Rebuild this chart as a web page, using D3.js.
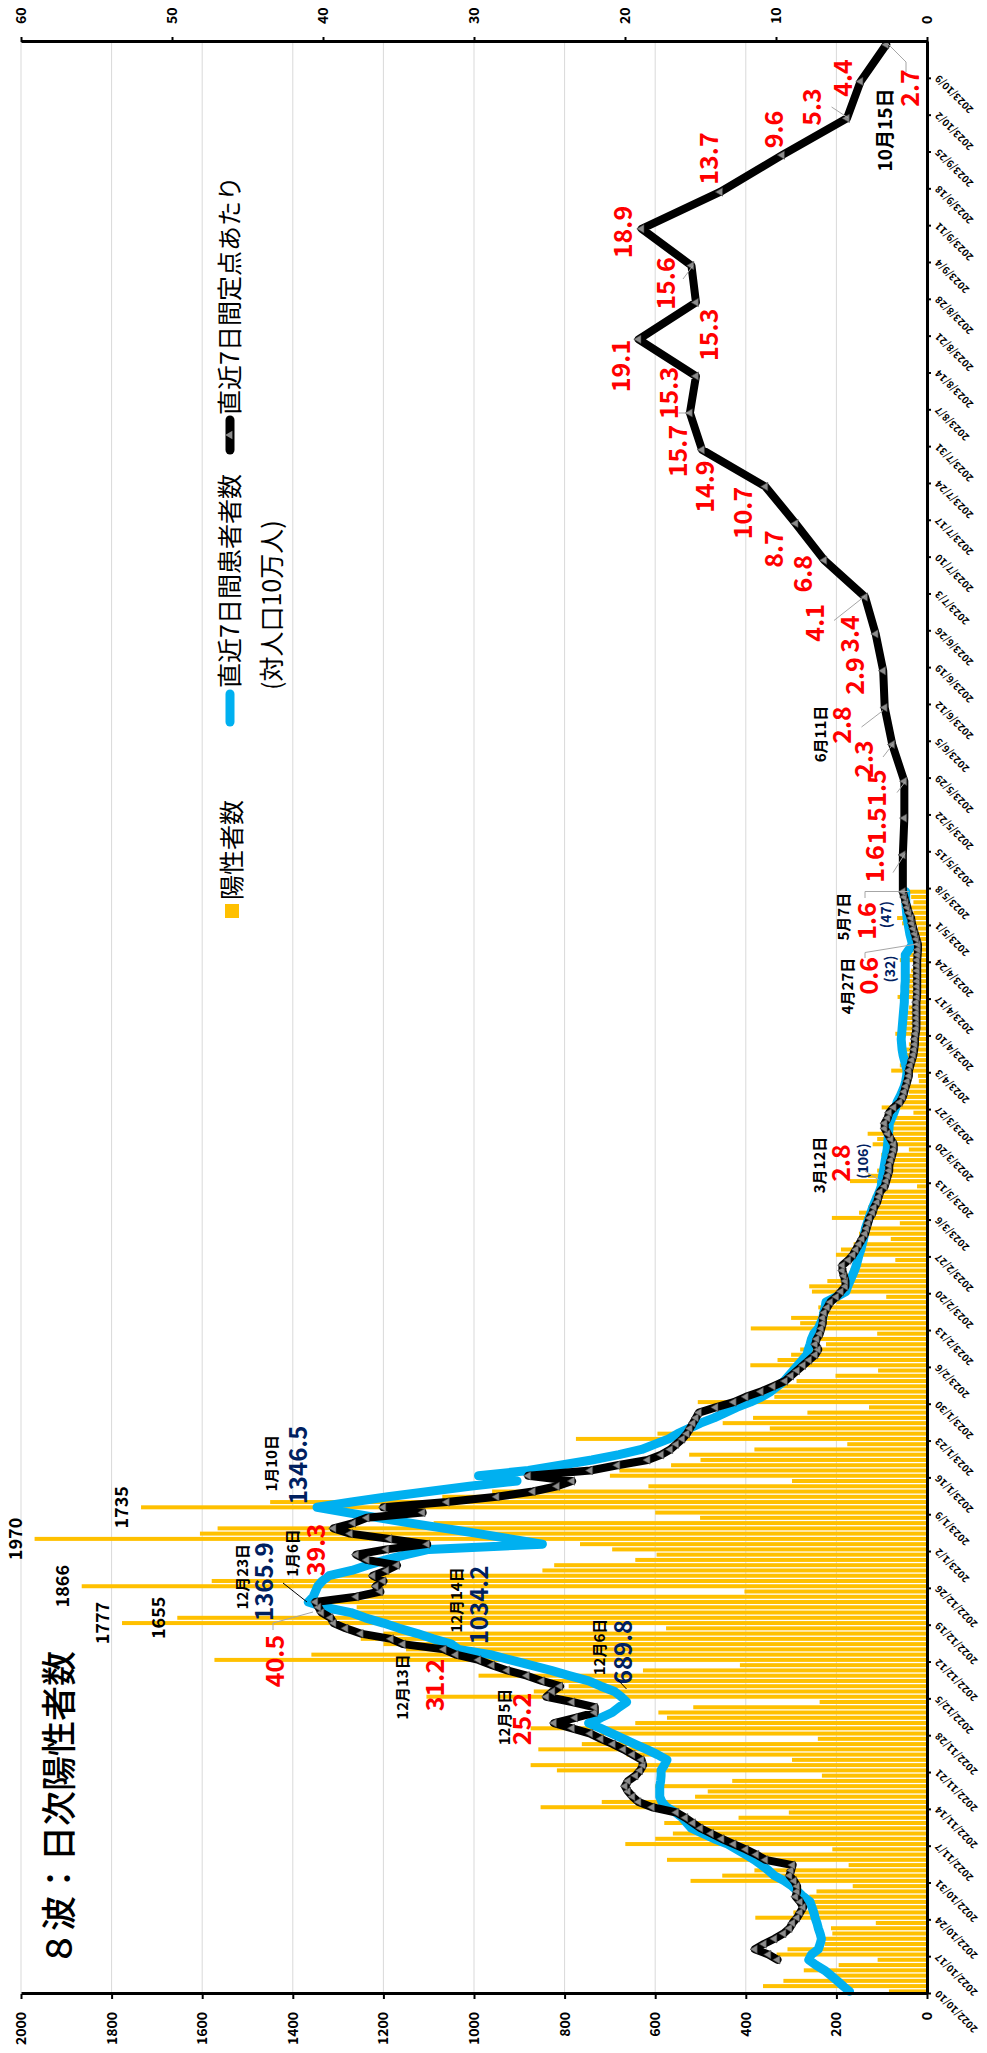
<!DOCTYPE html>
<html><head><meta charset="utf-8">
<script src="https://cdn.jsdelivr.net/npm/d3@7"></script>
<style>body{margin:0;background:#fff}svg{display:block}</style>
</head><body>
<svg id="c" width="987" height="2053"></svg>
<script>
// ---------------- DATA ----------------
const startDate = "2022-10-10";           // first daily category
const endDate = "2023-10-16";             // axis end (exclusive)
const blackDailyStart = "2022-10-16";
// daily positives 2022/10/10 .. 2023/5/7 (rows = Mon..Sun)
const positives = [
84,362,317,218,272,195,109,
332,308,226,235,209,212,113,
379,295,257,256,260,244,164,
522,452,381,173,574,388,209,
666,600,561,516,580,416,305,
853,718,512,484,600,430,232,
817,875,298,663,858,762,241,
721,875,644,574,593,516,237,
1105,868,791,849,990,627,413,
1573,1359,1150,1200,1250,1200,576,
1777,1655,1260,1259,1349,1260,403,
1866,1579,1323,849,823,644,597,
695,766,1970,1605,1566,1089,501,
600,1735,1450,1070,960,615,298,
700,679,565,500,525,381,176,
775,595,347,451,384,264,128,
506,337,362,333,288,202,108,
390,330,300,280,223,250,110,
389,280,300,230,240,200,90,
254,260,220,180,170,150,70,
201,190,162,80,150,140,60,
210,150,130,110,120,100,22,
170,130,110,100,95,101,40,
120,110,131,90,85,70,30,
100,70,60,40,55,18,20,
79,60,55,50,55,40,20,
70,60,55,50,45,40,20,
65,55,45,40,50,35,20,
60,44,40,35,40,35,20,
55,66,30,40,30,35,40];
// 直近7日間患者者数(対人口10万人) daily 2022/10/10 .. 2023/5/7
const weekly100k = [
171,185,198,212,226,245,261,
255,240,236,233,236,240,243,
247,250,254,258,273,285,298,
315,337,350,365,381,400,420,
440,470,495,520,530,540,555,
575,585,590,590,590,588,587,
587,580,574,595,619,645,670,
695,720,747,720,695,680,663,
675,689.8,720,747,790,830,875,
920,964,1034.2,1050,1090,1125,1165,
1200,1240,1272,1330,1365.9,1355,1350,
1345,1335,1320,1270,1235,1195,1150,
1100,849,920,990,1065,1140,1210,
1280,1346.5,1270,1190,1100,1010,905,
990,880,810,740,680,630,600,
570,550,525,500,470,445,420,
390,365,345,330,315,305,295,
285,275,265,262,258,255,250,
240,235,230,228,225,223,200,
179,175,170,165,160,156,153,
150,146,143,140,138,136,132,
128,124,120,115,110,105,101,
100,98,96,94,92,90,88,
87,86,85,84,83,78,73,
69,66,60,55,50,47,45,
44,47,50,53,55,56,57,
56,55,54,53,52,51,50,
50,49,49,48,48,48,48,
48,48,40,32,35,38,40,
42,44,45,46,47,47,47];
// 直近7日間定点あたり daily 2022/10/16 .. 2023/5/7
const perSentinelDaily = [
9.9,
10.5,11.4,10.8,10.1,9.5,9.1,8.9,
8.6,8.4,8.2,8.4,8.7,8.6,8.6,
8.8,9.1,9.0,8.9,10.7,11.3,12.0,
12.8,13.6,14.3,15.0,15.5,16.0,16.6,
18.2,19.1,19.5,19.8,20.0,19.8,19.3,
19.0,18.8,18.9,19.5,20.1,20.8,21.6,
22.3,23.5,24.7,23.3,22.0,22.0,23.5,
25.2,24.8,24.3,25.5,26.5,27.8,28.8,
29.7,31.2,32.0,34.7,35.5,37.5,38.5,
39.3,39.5,40.1,40.3,40.5,37.8,36.2,
36.5,36.0,36.7,35.8,35.1,37.1,37.8,
35.8,33.1,35.6,38.2,39.3,38.0,37.1,
33.4,36.0,31.8,28.5,26.1,24.5,23.5,
26.4,22.3,20.5,18.5,17.6,17.0,16.6,
16.2,15.9,15.7,15.5,15.3,15.1,14.0,
12.8,12.0,11.0,10.2,9.4,9.0,8.6,
8.2,7.8,7.4,7.2,7.4,7.3,7.1,
7.0,6.9,6.9,6.8,6.6,6.4,6.0,
5.7,5.4,5.4,5.5,5.6,5.6,5.2,
4.9,4.7,4.5,4.3,4.1,4.0,3.9,
3.8,3.6,3.5,3.3,3.2,3.1,2.8,
2.7,2.6,2.5,2.5,2.4,2.3,2.2,
2.2,2.4,2.6,2.8,2.8,2.6,2.5,
2.2,1.8,1.6,1.5,1.4,1.3,1.2,
1.2,1.1,1.0,0.9,0.85,0.8,0.8,
0.75,0.7,0.7,0.7,0.7,0.7,0.7,
0.66,0.65,0.65,0.65,0.65,0.65,0.65,
0.65,0.62,0.6,0.6,0.7,0.8,0.9,
1.0,1.05,1.2,1.3,1.4,1.5,1.6];
// weekly 定点あたり after 5/8
const weeklyDates = ["2023-05-14","2023-05-21","2023-05-28","2023-06-04","2023-06-11","2023-06-18","2023-06-25",
"2023-07-02","2023-07-09","2023-07-16","2023-07-23","2023-07-30","2023-08-06","2023-08-13","2023-08-20",
"2023-08-27","2023-09-03","2023-09-10","2023-09-17","2023-09-24","2023-10-01","2023-10-08","2023-10-15"];
const weeklyValues = [1.6,1.5,1.5,2.3,2.8,2.9,3.4,4.1,6.8,8.7,10.7,14.9,15.7,15.3,19.1,15.3,15.6,18.9,13.7,9.6,5.3,4.4,2.7];
const leftTicks = [0,200,400,600,800,1000,1200,1400,1600,1800,2000];
const rightTicks = [0,10,20,30,40,50,60];
const barValueLabels = [["2023-01-04","1970"],["2022-12-26","1866"],["2022-12-19","1777"],["2023-01-10","1735"],["2022-12-20","1655"]];

// ---------------- SETUP ----------------
const FONT = "'Noto Sans CJK JP','Noto Sans',sans-serif";
const W = 2053, H = 987;
const M = {left:59, right:2011, top:21, bottom:927};
const parse = d3.utcParse("%Y-%m-%d");
const start = parse(startDate);
const day = i => d3.utcDay.offset(start, i);
const x = d3.scaleUtc().domain([start, parse(endDate)]).range([M.left, M.right]);
const yL = d3.scaleLinear().domain([0,2000]).range([M.bottom, M.top]);
const yR = d3.scaleLinear().domain([0,60]).range([M.bottom, M.top]);
const u = x(day(1)) - x(day(0));
const cx = dt => x(dt) + u/2;

const svg = d3.select("#c");
svg.append("rect").attr("width",987).attr("height",2053).attr("fill","#fff");
const g = svg.append("g").attr("transform","translate(0,2053) rotate(-90)");

// gridlines
g.append("g").selectAll("line").data(leftTicks.filter(v=>v>0)).join("line")
  .attr("x1",M.left).attr("x2",M.right).attr("y1",d=>yL(d)).attr("y2",d=>yL(d))
  .attr("stroke","#d9d9d9").attr("stroke-width",1);

// bars
g.append("g").selectAll("rect").data(positives).join("rect")
  .attr("x",(v,i)=>x(day(i))+u*0.12).attr("width",u*0.76)
  .attr("y",v=>yL(v)).attr("height",v=>yL(0)-yL(v)).attr("fill","#FFC000");

// blue line
g.append("path").datum(weekly100k)
  .attr("d",d3.line().x((v,i)=>cx(day(i))).y(v=>yL(v)))
  .attr("fill","none").attr("stroke","#00B0F0").attr("stroke-width",9)
  .attr("stroke-linejoin","round").attr("stroke-linecap","round");

// black line
const bStart = parse(blackDailyStart);
const blackPts = perSentinelDaily.map((v,i)=>({t:d3.utcDay.offset(bStart,i), v}))
  .concat(weeklyDates.map((d,i)=>({t:parse(d), v:weeklyValues[i]})));
g.append("path").datum(blackPts)
  .attr("d",d3.line().x(p=>cx(p.t)).y(p=>yR(p.v)))
  .attr("fill","none").attr("stroke","#000").attr("stroke-width",8)
  .attr("stroke-linejoin","round").attr("stroke-linecap","round");
g.append("g").selectAll("path").data(blackPts).join("path")
  .attr("transform",p=>`translate(${cx(p.t)},${yR(p.v)})`)
  .attr("d",d3.symbol(d3.symbolTriangle,30)).attr("fill","#8c8c8c").attr("stroke","#3a3a3a").attr("stroke-width",0.6);

// axes
function styleAxis(a, fs){
  a.select(".domain").attr("stroke","#000").attr("stroke-width",3);
  a.selectAll(".tick line").attr("stroke","#000").attr("stroke-width",2);
  a.selectAll("text").attr("font-family",FONT).attr("font-weight","bold").attr("font-size",fs).attr("fill","#000");
}
const axL = g.append("g").attr("transform",`translate(${M.left},0)`)
  .call(d3.axisLeft(yL).tickValues(leftTicks).tickFormat(d3.format("d")).tickSize(5).tickSizeOuter(0).tickPadding(13));
styleAxis(axL,14);
const axR = g.append("g").attr("transform",`translate(${M.right},0)`)
  .call(d3.axisRight(yR).tickValues(rightTicks).tickFormat(d3.format("d")).tickSize(5).tickSizeOuter(0).tickPadding(13));
styleAxis(axR,14);
const dateTicks = d3.utcDay.range(start, parse("2023-10-10"), 7);
const axB = g.append("g").attr("transform",`translate(0,${M.bottom})`)
  .call(d3.axisBottom(x).tickValues(dateTicks).tickFormat(d3.utcFormat("%Y/%-m/%-d")).tickSize(4).tickSizeOuter(0));
styleAxis(axB,10);
axB.selectAll("text").attr("text-anchor","end").attr("x",-6).attr("y",8).attr("dy","0.35em")
  .attr("transform","rotate(-45)");

// ---------------- ANNOTATIONS (screen coords -> landscape) ----------------
const L = (sx, sy) => [W - sy, sx];
function label(t, sx, sy, fs, color, weight){
  const [X,Y] = L(sx,sy);
  g.append("text").attr("x",X).attr("y",Y).attr("dy","0.35em").attr("text-anchor","middle")
   .attr("font-family",FONT).attr("font-size",fs).attr("font-weight",weight||"bold").attr("fill",color).text(t);
}
const redLabels = [
 ["2.7",910,88],["4.4",843.6,78],["5.3",812.5,107],["9.6",774,129.5],["13.7",709.6,158.5],["18.9",623.5,232],
 ["15.6",666.6,283.5],["15.3",709.6,334.8],["19.1",621,366],["15.3",669,393],["15.7",678.5,451],["14.9",705,486.6],
 ["10.7",743,513],["8.7",774,549],["6.8",803,573.7],["4.1",815,622.8],["3.4",850.7,634],["2.9",855.5,676],
 ["2.8",842.5,725],["2.3",864.6,759],["1.5",877,788],["1.5",877,826],["1.6",875,864],["1.6",867,921],
 ["0.6",869,975.7],["2.8",841.7,1163],["40.5",275,1661],["39.3",316.7,1550],["31.2",435,1685],["25.2",522,1719]];
redLabels.forEach(d=>label(d[0],d[1],d[2],25,"#FF0000"));
const navyLabels = [["1346.5",298.3,1465,24],["1365.9",265,1581.7,24],["1034.2",480,1605,24],["689.8",623.6,1652,24],
 ["(47)",886,914.6,14],["(32)",890,969,14],["(106)",863.5,1161,14]];
navyLabels.forEach(d=>label(d[0],d[1],d[2],d[3],"#002060"));
const dateLabels = [["1月10日",271.7,1463.3,15],["1月6日",293,1553,15],["12月23日",243,1576.7,15],["12月14日",456.7,1600,15],
 ["12月13日",403,1687,15],["12月5日",505,1717,15],["12月6日",600,1647,15],["6月11日",821,734,15],["5月7日",843.7,916.7,15],
 ["4月27日",847.6,986,15],["3月12日",820,1165,15],["10月15日",885,130,19]];
dateLabels.forEach(d=>label(d[0],d[1],d[2],d[3],"#000"));
// bar value labels (placed beyond bar end)
barValueLabels.forEach(([d,t])=>{
  const dt = parse(d); const i = d3.utcDay.count(start, dt);
  g.append("text").attr("x",cx(dt)).attr("y",yL(positives[i])-19).attr("dy","0.35em").attr("text-anchor","middle")
   .attr("font-family",FONT).attr("font-size",18).attr("font-weight","bold").attr("fill","#000").text(t);
});
// leader lines (screen coords)
const leaders = [
 [[888,44],[906,62],[906,72]], [[831.6,107],[848.3,118]], [[683,279],[693,265.6]], [[678.5,413],[690.5,413]],
 [[834,620.5],[865,596]], [[861.5,727],[883,710.5]], [[883,757],[893,744]], [[897,792.6],[905,782]],
 [[893,872.6],[905,853.6]], [[865,898],[865,891.5],[909,891.5]], [[865,958],[865,952.5],[917,944]],
 [[865,1171],[879,1180]], [[273,1630],[273,1623],[313,1612]]];
leaders.forEach(pts=>g.append("path").attr("d",d3.line()(pts.map(p=>L(p[0],p[1])))).attr("fill","none")
  .attr("stroke","#a6a6a6").attr("stroke-width",1));
const blackLeaders = [[[283,1583],[307,1602]], [[618,1680],[626.5,1689]]];
blackLeaders.forEach(pts=>g.append("path").attr("d",d3.line()(pts.map(p=>L(p[0],p[1])))).attr("fill","none")
  .attr("stroke","#000").attr("stroke-width",1));

// ---------------- LEGEND ----------------
const lg = g.append("g").attr("font-family",FONT).attr("font-size",25).attr("fill","#000");
lg.append("rect").attr("x",W-918).attr("y",225).attr("width",14).attr("height",14).attr("fill","#FFC000");
lg.append("text").attr("x",W-900).attr("y",232).attr("dy","0.35em").text("陽性者数");
lg.append("line").attr("x1",W-722).attr("x2",W-694).attr("y1",230).attr("y2",230)
  .attr("stroke","#00B0F0").attr("stroke-width",9).attr("stroke-linecap","round");
lg.append("text").attr("x",W-688).attr("y",230).attr("dy","0.35em").text("直近7日間患者者数");
lg.append("text").attr("x",W-690).attr("y",272).attr("dy","0.35em").text("(対人口10万人)");
lg.append("line").attr("x1",W-450).attr("x2",W-420).attr("y1",230).attr("y2",230)
  .attr("stroke","#000").attr("stroke-width",9).attr("stroke-linecap","round");
lg.append("path").attr("transform",`translate(${W-435},230)`).attr("d",d3.symbol(d3.symbolTriangle,30)).attr("fill","#8c8c8c");
lg.append("text").attr("x",W-415).attr("y",230).attr("dy","0.35em").text("直近7日間定点あたり");

// title
g.append("text").attr("x",W-1966).attr("y",60).attr("dy","0.35em").attr("font-family",FONT)
  .attr("font-size",35).attr("font-weight",500).attr("fill","#000").text("８波：日次陽性者数");
</script>
</body></html>
